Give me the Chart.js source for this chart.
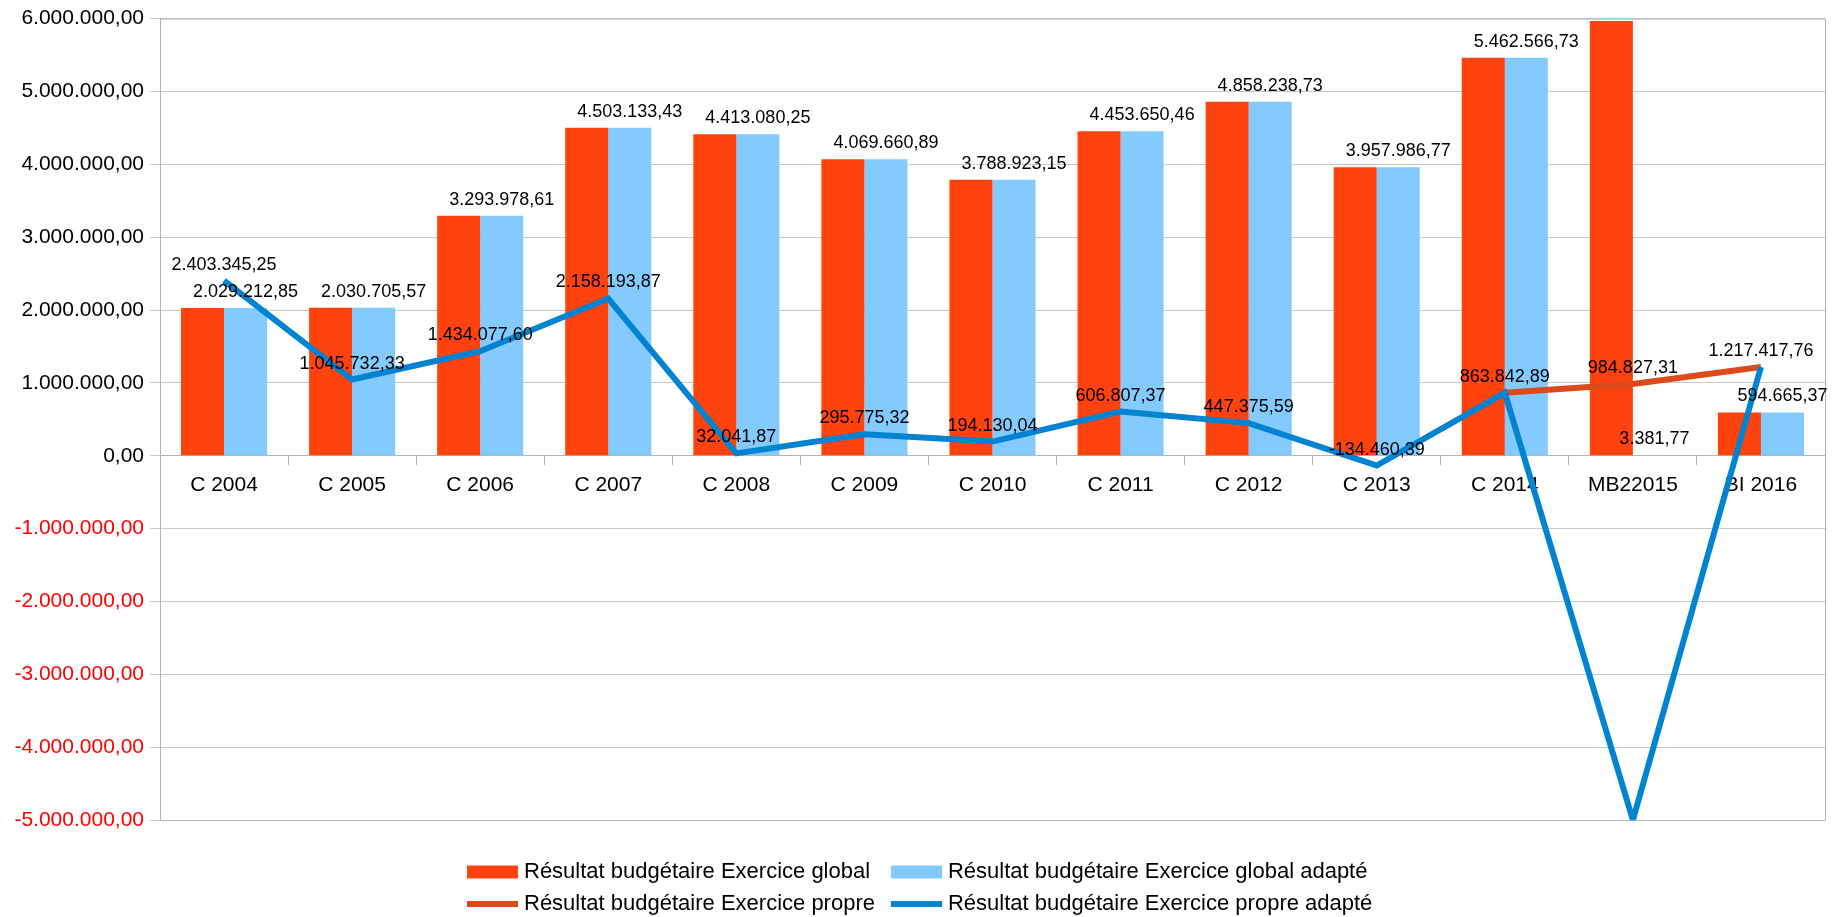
<!DOCTYPE html>
<html lang="fr">
<head>
  <meta charset="UTF-8" />
  <title>Résultat budgétaire</title>
  <style>
    html, body { margin: 0; padding: 0; background: #fff; }
    #wrap { width: 1839px; height: 917px; }
  </style>
</head>
<body>
<div id="wrap"><canvas id="chart"></canvas></div>

<script src="https://cdn.jsdelivr.net/npm/chart.js"></script>
<script>
// DATA
const categories = ["C 2004", "C 2005", "C 2006", "C 2007", "C 2008", "C 2009", "C 2010",
                    "C 2011", "C 2012", "C 2013", "C 2014", "MB22015", "BI 2016"];

const globalValues = [2029212.85, 2030705.57, 3293978.61, 4503133.43, 4413080.25, 4069660.89, 3788923.15,
                      4453650.46, 4858238.73, 3957986.77, 5462566.73, 5966000, 594665.37];

const globalAdapteValues = [2029212.85, 2030705.57, 3293978.61, 4503133.43, 4413080.25, 4069660.89, 3788923.15,
                            4453650.46, 4858238.73, 3957986.77, 5462566.73, 3381.77, 594665.37];

const propreValues = [null, null, null, null, null, null, null,
                      null, null, null, 863842.89, 984827.31, 1217417.76];

const propreAdapteValues = [2403345.25, 1045732.33, 1434077.60, 2158193.87, 32041.87, 295775.32, 194130.04,
                            606807.37, 447375.59, -134460.39, 863842.89, -5000000, 1217417.76];

const yMin = -5000000;
const yMax = 6000000;
const yStep = 1000000;

const FONT = '"Liberation Sans", Arial, sans-serif';

// 1234567.8 -> "1.234.567,80"
function fmt(v) {
  const neg = v < 0;
  const parts = Math.abs(v).toFixed(2).split(".");
  const int = parts[0].replace(/\B(?=(\d{3})+(?!\d))/g, ".");
  return (neg ? "-" : "") + int + "," + parts[1];
}

// frame round the plot area
const frame = {
  id: "frame",
  beforeDatasetsDraw(chart) {
    const { ctx, chartArea: a } = chart;
    ctx.save();
    ctx.strokeStyle = "#b3b3b3";
    ctx.lineWidth = 1;
    ctx.strokeRect(a.left + 0.5, a.top + 0.5, a.right - a.left, a.bottom - a.top);
    ctx.restore();
  }
};

// value labels above bars / points
const valueLabels = {
  id: "valueLabels",
  afterDatasetsDraw(chart) {
    const ctx = chart.ctx;
    const yScale = chart.scales.y;
    const done = new Set(); // same value on same category: draw once
    ctx.save();
    ctx.font = "18px " + FONT;
    ctx.fillStyle = "#000";
    ctx.textAlign = "center";
    ctx.textBaseline = "alphabetic";
    chart.data.datasets.forEach((ds, i) => {
      if (!ds.showLabels) return;
      const meta = chart.getDatasetMeta(i);
      meta.data.forEach((el, j) => {
        const v = ds.data[j];
        if (v === null || v <= yScale.min) return;
        const key = j + ":" + v;
        if (done.has(key)) return;
        done.add(key);
        ctx.fillText(fmt(v), el.x, el.y - 11);
      });
    });
    ctx.restore();
  }
};

// two-column legend under the chart
const gridLegend = {
  id: "gridLegend",
  afterDraw(chart) {
    const ctx = chart.ctx;
    const ds = chart.data.datasets;
    const items = [ds[0], ds[1], ds[2], ds[3]];
    const boxW = 51, gap = 6, colGap = 16;
    ctx.save();
    ctx.font = "22px " + FONT;
    ctx.textBaseline = "middle";
    ctx.textAlign = "left";
    const w0 = Math.max(ctx.measureText(items[0].label).width, ctx.measureText(items[2].label).width);
    const w1 = Math.max(ctx.measureText(items[1].label).width, ctx.measureText(items[3].label).width);
    const col0 = boxW + gap + w0 + colGap;
    const total = col0 + boxW + gap + w1;
    const x0 = Math.round((chart.width - total) / 2);
    const rows = [872, 904];
    items.forEach((it, i) => {
      const x = i % 2 === 0 ? x0 : x0 + col0;
      const y = rows[Math.floor(i / 2)];
      if (it.type === "line") {
        ctx.fillStyle = it.borderColor;
        ctx.fillRect(x, y - 3, boxW, 6);
      } else {
        ctx.fillStyle = it.backgroundColor;
        ctx.fillRect(x, y - 6.5, boxW, 13);
      }
      ctx.fillStyle = "#000";
      ctx.fillText(it.label, x + boxW + gap, y);
    });
    ctx.restore();
  }
};

new Chart(document.getElementById("chart"), {
  type: "bar",
  data: {
    labels: categories,
    datasets: [
      {
        label: "Résultat budgétaire Exercice global",
        data: globalValues,
        backgroundColor: "#ff420e",
        order: 2
      },
      {
        label: "Résultat budgétaire Exercice global adapté",
        data: globalAdapteValues,
        backgroundColor: "#83caff",
        showLabels: true,
        order: 3
      },
      {
        type: "line",
        label: "Résultat budgétaire Exercice propre",
        data: propreValues,
        borderColor: "#dc4a1b",
        backgroundColor: "#dc4a1b",
        borderWidth: 6,
        pointRadius: 0,
        tension: 0,
        showLabels: true,
        order: 1
      },
      {
        type: "line",
        label: "Résultat budgétaire Exercice propre adapté",
        data: propreAdapteValues,
        borderColor: "#0084d1",
        backgroundColor: "#0084d1",
        borderWidth: 6,
        pointRadius: 0,
        tension: 0,
        showLabels: true,
        order: 0
      }
    ]
  },
  options: {
    responsive: true,
    maintainAspectRatio: false,
    animation: false,
    layout: { padding: { top: 18, right: 14, bottom: 97, left: 0 } },
    datasets: { bar: { categoryPercentage: 0.672, barPercentage: 1 } },
    plugins: {
      legend: { display: false },
      tooltip: { enabled: false }
    },
    scales: {
      x: {
        position: { y: 0 },
        offset: true,
        grid: { offset: true, drawOnChartArea: false, tickLength: 9, color: "#b3b3b3" },
        border: { color: "#b3b3b3" },
        ticks: { color: "#000", font: { family: FONT, size: 21 }, padding: 8, maxRotation: 0, autoSkip: false }
      },
      y: {
        min: yMin,
        max: yMax,
        afterFit(scale) { scale.width = 160; },
        grid: { color: "#c8c8c8", tickLength: 10 },
        border: { color: "#b3b3b3" },
        ticks: {
          stepSize: yStep,
          padding: 6,
          font: { family: FONT, size: 21 },
          color: (c) => (c.tick && c.tick.value < 0 ? "#ff0000" : "#000"),
          callback: (v) => fmt(v)
        }
      }
    }
  },
  plugins: [frame, valueLabels, gridLegend]
});
</script>
</body>
</html>
